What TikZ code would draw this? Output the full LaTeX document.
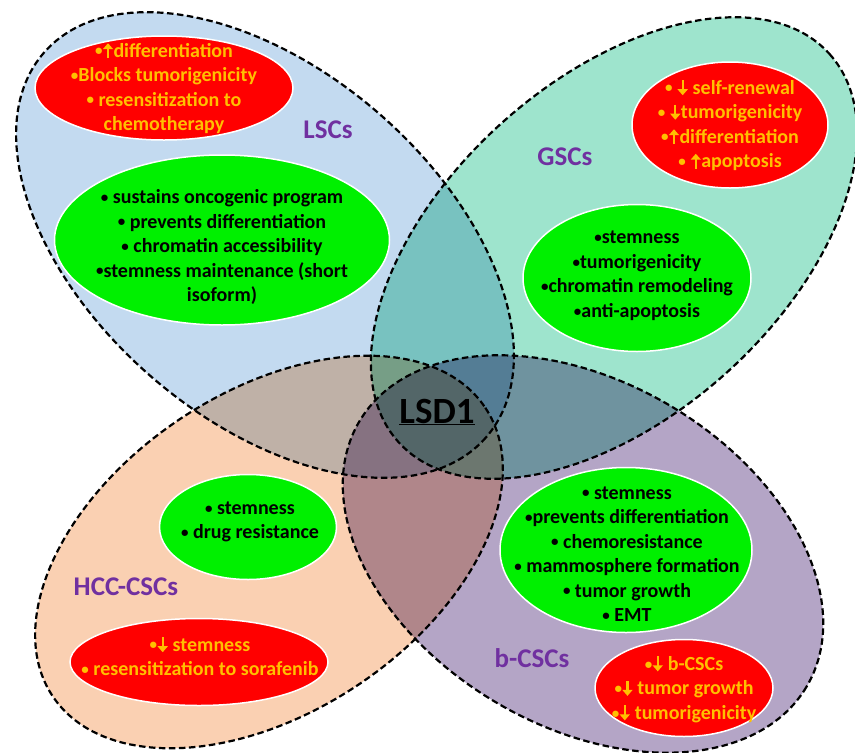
\documentclass[tikz,border=0pt]{standalone}
\usepackage{fontspec}
\setmainfont{Carlito}
\usetikzlibrary{shapes.geometric,arrows.meta}
\definecolor{lscC}{RGB}{195,218,240}
\definecolor{gscC}{RGB}{158,228,205}
\definecolor{hccC}{RGB}{250,208,178}
\definecolor{bcsC}{RGB}{180,165,198}
\definecolor{redC}{RGB}{255,0,0}
\definecolor{greenC}{RGB}{0,240,0}
\definecolor{goldC}{RGB}{255,192,0}
\definecolor{purpleC}{RGB}{112,48,160}
\newcommand\myBody{\fontsize{20}{24.5}\selectfont\bfseries}
\newcommand\myLabel{\fontsize{27}{30}\selectfont\bfseries}
\newcommand\myBul{\raisebox{1.3pt}{\fontsize{15}{15}\selectfont •}}
\newcommand\myUp{\hspace{0.5pt}\tikz[x=1pt,y=1pt,baseline=0pt]\draw[goldC,line width=2.2pt,-{Triangle[length=6pt,width=10pt]}] (0,-1)--(0,14);\hspace{0.5pt}}
\newcommand\myDown{\hspace{0.5pt}\tikz[x=1pt,y=1pt,baseline=0pt]\draw[goldC,line width=2.2pt,-{Triangle[length=6pt,width=10pt]}] (0,14)--(0,-1);\hspace{0.5pt}}
\begin{document}
\begin{tikzpicture}[x=1pt,y=-1pt,
  petal/.style={line width=2.2pt, dash pattern=on 6.5pt off 3.5pt, draw=black},
  redbox/.style={ellipse, fill=redC, draw=white, line width=1.5pt, inner sep=0pt},
  greenbox/.style={ellipse, fill=greenC, draw=white, line width=1.5pt, inner sep=0pt},
  redtext/.style={text=goldC, font=\myBody, align=center, inner sep=0pt},
  greentext/.style={text=black, font=\myBody, align=center, inner sep=0pt},
  setlabel/.style={text=purpleC, font=\myLabel, inner sep=0pt}]
\useasboundingbox (0,0) rectangle (855,753);
\fill[white] (0,0) rectangle (855,753);
\coordinate (cL) at (265,245);
\coordinate (cG) at (614,248);
\coordinate (cH) at (269,552);
\coordinate (cB) at (583,554);
\begin{scope}[blend group=multiply]
\draw[petal, fill=lscC, rotate around={-41:(cL)}] (cL) ellipse [x radius=293, y radius=174];
\draw[petal, fill=hccC, rotate around={33.7:(cH)}] (cH) ellipse [x radius=260, y radius=160];
\draw[petal, fill=gscC, rotate around={42:(cG)}] (cG) ellipse [x radius=290, y radius=168];
\draw[petal, fill=bcsC, rotate around={-30.7:(cB)}] (cB) ellipse [x radius=260, y radius=172];
\end{scope}
% LSCs ellipses
\node[redbox, minimum width=258pt, minimum height=104pt] (lscR) at (164,88) {};
\node[redtext] (lscRt) at (lscR.center) {\myBul\myUp differentiation\\\myBul Blocks tumorigenicity\\\myBul\ resensitization to\\chemotherapy};
\node[greenbox, minimum width=335pt, minimum height=170pt] (lscG) at (222,240) {};
\node[greentext] (lscGt) at (222,247) {\myBul\ sustains oncogenic program\\\myBul\ prevents differentiation\\\myBul\ chromatin accessibility\\\myBul stemness maintenance (short\\isoform)};
\node[setlabel] (lscL) at (328,130) {LSCs};
% GSCs ellipses
\node[redbox, minimum width=196pt, minimum height=126pt] (gscR) at (730,125) {};
\node[redtext] (gscRt) at (gscR.center) {\myBul\ \myDown\ self-renewal\\\myBul\ \myDown tumorigenicity\\\myBul\myUp differentiation\\\myBul\ \myUp apoptosis};
\node[greenbox, minimum width=228pt, minimum height=147pt] (gscG) at (637,278) {};
\node[greentext] (gscGt) at (637,276) {\myBul stemness\\\myBul tumorigenicity\\\myBul chromatin remodeling\\\myBul anti-apoptosis};
\node[setlabel] (gscL) at (565,157) {GSCs};
% HCC-CSCs ellipses
\node[greenbox, minimum width=177pt, minimum height=105pt] (hccG) at (248,527) {};
\node[greentext] (hccGt) at (250,522) {\myBul\ stemness\\\myBul\ drug resistance};
\node[redbox, minimum width=258pt, minimum height=87pt] (hccR) at (199,662) {};
\node[redtext] (hccRt) at (200,656) {\myBul\myDown\ stemness\\\myBul\ resensitization to sorafenib};
\node[setlabel] (hccL) at (126,587) {HCC-CSCs};
% b-CSCs ellipses
\node[greenbox, minimum width=252pt, minimum height=165pt] (bcsG) at (626,550) {};
\node[greentext] (bcsGt) at (627,554) {\myBul\ stemness\\\myBul prevents differentiation\\\myBul\ chemoresistance\\\myBul\ mammosphere formation\\\myBul\ tumor growth\\\myBul\ EMT};
\node[redbox, minimum width=178pt, minimum height=97pt] (bcsR) at (684,688) {};
\node[redtext] (bcsRt) at (684,689) {\myBul\myDown\ b-CSCs\\\myBul\myDown\ tumor growth\\\myBul\myDown\ tumorigenicity};
\node[setlabel] (bcsL) at (532,658) {b-CSCs};
% centre
\node[font=\fontsize{37}{40}\selectfont\bfseries, inner sep=0pt] (lsd) at (437,412) {\underline{LSD1}};
\end{tikzpicture}
\end{document}
